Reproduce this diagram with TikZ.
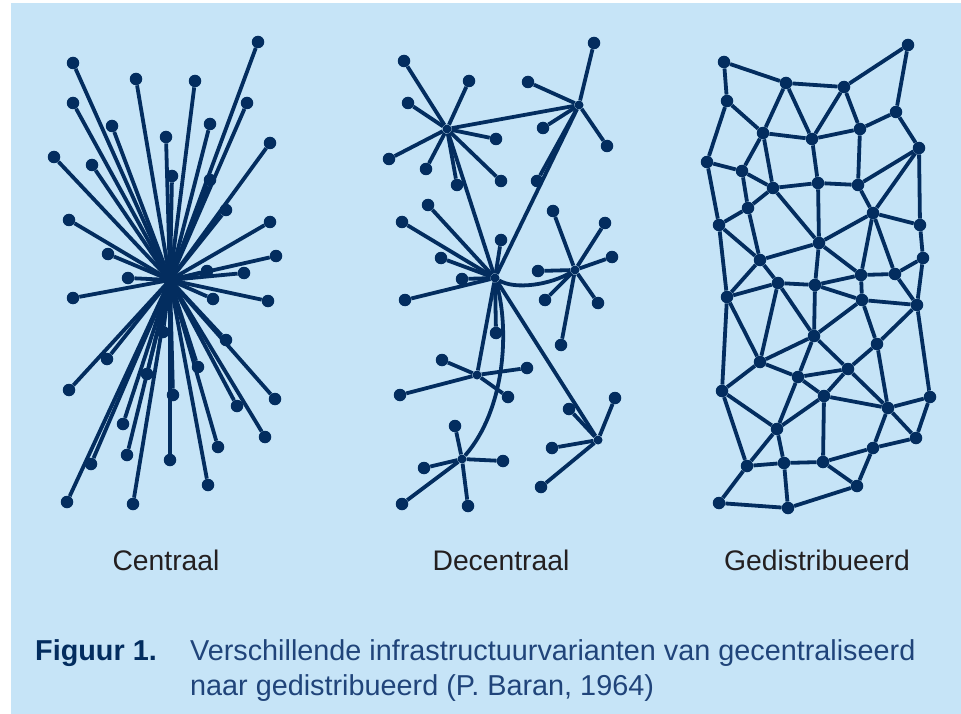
\documentclass[tikz,border=0pt]{standalone}
\usepackage{fontspec}
\setmainfont{Liberation Sans}
\usepackage{tikz}

\definecolor{bgblue}{RGB}{198,228,247}
\definecolor{navy}{RGB}{3,45,95}
\definecolor{captxt}{RGB}{32,68,122}
\definecolor{labtxt}{RGB}{35,31,32}

\tikzset{
  link/.style={draw=navy, line width=3.8pt},
  dot/.style={circle, fill=navy, inner sep=0pt, minimum size=12.5pt},
  hub/.style={circle, fill=navy, inner sep=0pt, minimum size=9pt},
  netlabel/.style={anchor=base, inner sep=0pt, text=labtxt, font=\fontsize{28.3}{34}\selectfont},
  caption/.style={anchor=base west, inner sep=0pt, text=captxt, font=\fontsize{28.8}{34}\selectfont}
}

\begin{document}
\begin{tikzpicture}[x=1pt, y=-1pt]
	\useasboundingbox (0,0) rectangle (961,714);
	\fill[bgblue] (11,3) rectangle (961,714);

	% centraal
	\coordinate (c0) at (170,280);
	\foreach \x/\y [count=\i] in {258/42, 73/63, 136/79, 195/81, 73/103, 247/103, 112/126,
		210/124, 166/137, 270/143, 54/157, 92/165, 172/176, 210/180, 226/210, 69/220,
		270/222, 108/254, 276/256, 207/271, 244/273, 128/278, 73/298, 213/299, 268/301,
		163/332, 226/340, 107/359, 198/367, 147/374, 69/390, 173/395, 275/399, 237/406,
		123/424, 265/437, 218/447, 127/455, 170/460, 91/464, 208/485, 67/502, 133/504} {
		\node[dot] (c\i) at (\x,\y) {};
		\draw[link] (c0) -- (c\i);
	}

	% decentraal
	\node[hub] (d1) at (447,129) {};
	\node[hub] (d2) at (579,105) {};
	\node[hub] (d3) at (495,278) {};
	\node[hub] (d4) at (575,270) {};
	\node[hub] (d5) at (477,375) {};
	\node[hub] (d6) at (598,440) {};
	\node[hub] (d7) at (462,459) {};

	\draw[link] (d1) -- (d2);
	\draw[link] (d1) -- (d3);
	\draw[link] (d2) -- (d3);
	\draw[link] (d3) -- (d5);
	\draw[link] (d3) -- (d6);
	\draw[link] (d3) .. controls (515,290) and (550,285) .. (d4);
	\draw[link] (d3) .. controls (510,330) and (505,410) .. (d7);

	\foreach \x/\y [count=\i] in {404/61, 469/81, 408/103, 496/139, 389/159, 426/169, 457/185, 501/181} {
		\node[dot] (da\i) at (\x,\y) {};
		\draw[link] (d1) -- (da\i);
	}
	\foreach \x/\y [count=\i] in {594/43, 528/82, 543/128, 607/146, 537/181} {
		\node[dot] (db\i) at (\x,\y) {};
		\draw[link] (d2) -- (db\i);
	}
	\foreach \x/\y [count=\i] in {428/205, 402/222, 501/240, 441/258, 462/279, 405/300, 496/333} {
		\node[dot] (dc\i) at (\x,\y) {};
		\draw[link] (d3) -- (dc\i);
	}
	\foreach \x/\y [count=\i] in {553/211, 605/223, 612/257, 538/271, 545/300, 598/303, 561/345} {
		\node[dot] (dd\i) at (\x,\y) {};
		\draw[link] (d4) -- (dd\i);
	}
	\foreach \x/\y [count=\i] in {442/360, 527/368, 400/395, 508/397} {
		\node[dot] (de\i) at (\x,\y) {};
		\draw[link] (d5) -- (de\i);
	}
	\foreach \x/\y [count=\i] in {615/398, 569/409, 552/448, 541/487} {
		\node[dot] (df\i) at (\x,\y) {};
		\draw[link] (d6) -- (df\i);
	}
	\foreach \x/\y [count=\i] in {455/426, 503/461, 424/468, 402/504, 468/506} {
		\node[dot] (dg\i) at (\x,\y) {};
		\draw[link] (d7) -- (dg\i);
	}

	% gedistribueerd
	\foreach \x/\y [count=\i] in {908/45, 724/62, 786/83, 844/87, 727/101, 896/112, 763/133,
		860/129, 812/139, 919/148, 707/162, 742/171, 818/183, 858/185, 773/188, 748/208,
		873/213, 719/225, 920/225, 819/243, 760/260, 923/258, 861/275, 895/274, 778/283,
		815/285, 727/297, 862/300, 917/305, 814/336, 877/344, 760/362, 798/377, 848/369,
		722/391, 824/396, 930/397, 888/408, 777/429, 916/438, 873/448, 747/466, 784/463,
		823/462, 857/486, 719/503, 788/508}
		\node[dot] (g\i) at (\x,\y) {};

	\foreach \a/\b in {1/6, 1/4, 2/3, 2/5, 3/4, 3/7, 3/9, 4/9, 4/8, 5/7, 5/11, 6/8, 6/10,
		7/9, 7/12, 7/15, 8/9, 8/14, 9/13, 10/14, 10/17, 10/19, 11/12, 11/18, 12/15, 12/16,
		13/14, 13/15, 13/20, 14/17, 15/16, 15/20, 16/18, 16/21, 17/19, 17/20, 17/23, 17/24,
		18/21, 18/27, 19/22, 20/21, 20/23, 20/26, 21/25, 21/27, 22/24, 22/29, 23/24, 23/26,
		23/28, 24/29, 25/26, 25/27, 25/30, 25/32, 26/28, 26/30, 27/32, 27/35, 28/29, 28/30,
		28/31, 29/31, 29/37, 30/32, 30/33, 30/34, 31/34, 31/38, 32/33, 32/35, 33/34, 33/36,
		33/39, 34/36, 34/38, 35/39, 35/42, 36/38, 36/39, 36/44, 37/38, 37/40, 38/40, 38/41,
		39/42, 39/43, 40/41, 41/44, 41/45, 42/43, 42/46, 43/44, 43/47, 44/45, 45/47, 46/47}
		\draw[link] (g\a) -- (g\b);

	% labels
	\node[netlabel] (lblcentraal) at (166,570) {Centraal};
	\node[netlabel] (lbldecentraal) at (501,570) {Decentraal};
	\node[netlabel] (lblgedist) at (817,570) {Gedistribueerd};

	\node[caption, text=navy] (figno) at (35,660) {\bfseries Figuur 1.};
	\node[caption] (capline1) at (190,660) {Verschillende infrastructuurvarianten van gecentraliseerd};
	\node[caption] (capline2) at (190,695) {naar gedistribueerd (P. Baran, 1964)};

\end{tikzpicture}
\end{document}
